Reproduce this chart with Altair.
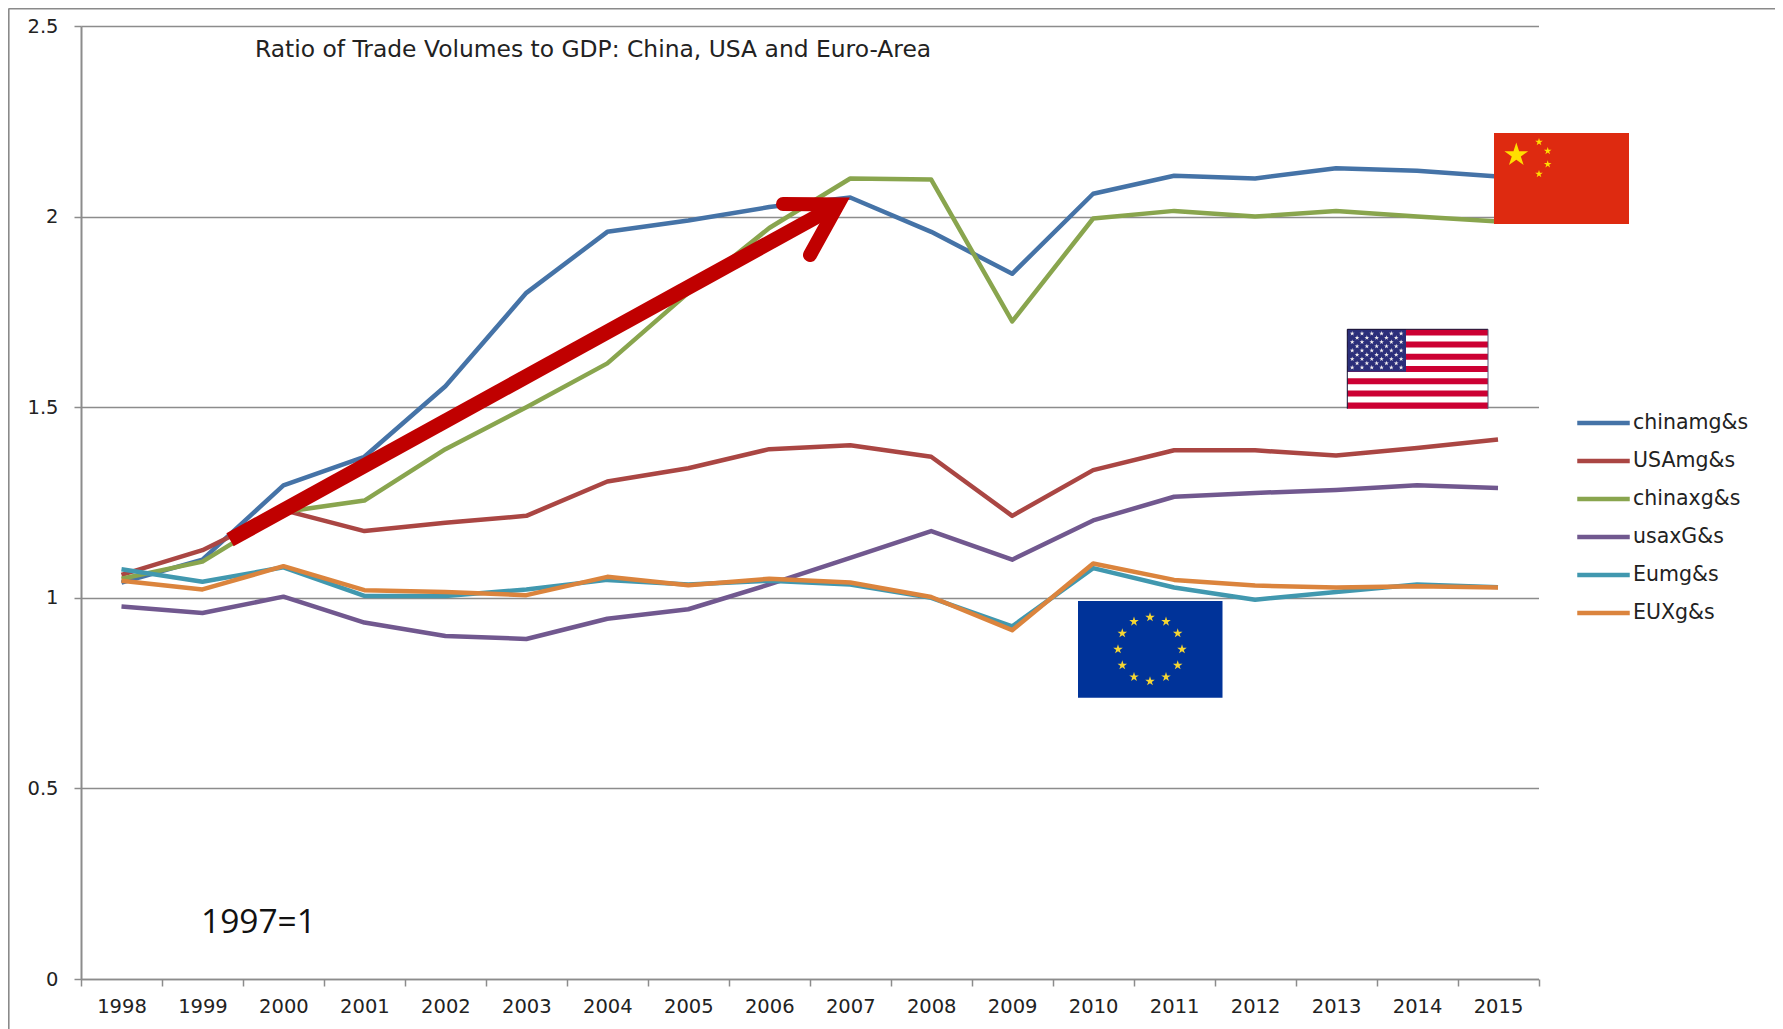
import math
import altair as alt
import pandas as pd

years = list(range(1998, 2016))
series_names = ["chinamg&s", "USAmg&s", "chinaxg&s", "usaxG&s", "Eumg&s", "EUXg&s"]
series_colors = ["#4573A7", "#AA4643", "#89A54E", "#71588F", "#4198AF", "#DB843D"]

chinamg = [1.04, 1.10, 1.295, 1.37, 1.555, 1.80, 1.96, 1.99, 2.025, 2.05, 1.96, 1.85, 2.06, 2.107, 2.10, 2.127, 2.12, 2.105]
usamg = [1.06, 1.125, 1.23, 1.175, 1.197, 1.215, 1.305, 1.34, 1.39, 1.40, 1.37, 1.215, 1.335, 1.387, 1.387, 1.373, 1.393, 1.415]
chinax = [1.05, 1.095, 1.225, 1.255, 1.39, 1.50, 1.615, 1.80, 1.97, 2.10, 2.097, 1.725, 1.995, 2.015, 2.0, 2.015, 2.0, 1.987]
usax = [0.977, 0.96, 1.003, 0.935, 0.90, 0.892, 0.945, 0.97, 1.035, 1.105, 1.175, 1.10, 1.203, 1.265, 1.275, 1.283, 1.295, 1.288]
eum = [1.075, 1.042, 1.08, 1.005, 1.005, 1.022, 1.047, 1.035, 1.045, 1.035, 1.0, 0.925, 1.078, 1.027, 0.995, 1.015, 1.035, 1.028]
eux = [1.045, 1.022, 1.083, 1.02, 1.015, 1.007, 1.055, 1.033, 1.05, 1.04, 1.002, 0.915, 1.09, 1.047, 1.032, 1.027, 1.03, 1.027]
all_series = [chinamg, usamg, chinax, usax, eum, eux]

title_text = "Ratio of Trade Volumes to GDP: China, USA and Euro-Area"
base_text = "1997=1"

FONT = "DejaVu Sans"
TXT = "#222222"
GRID = "#8c8c8c"

# page origin of the plot area
OX, OY = 81, 26
W, H = 1457.5, 953

rows = []
for name, vals in zip(series_names, all_series):
    for y, v in zip(years, vals):
        rows.append({"year": y, "series": name, "value": v})
df = pd.DataFrame(rows)
one = pd.DataFrame({"a": [0]})

lines = alt.Chart(df).mark_line(strokeWidth=4.5, strokeJoin="round").encode(
    x=alt.X("year:O", bandPosition=0.5,
            scale=alt.Scale(type="band", paddingInner=0, paddingOuter=0),
            axis=alt.Axis(title=None, labelAngle=0, tickBand="extent", grid=False,
                          labelFont=FONT, labelFontSize=19.5, labelColor=TXT,
                          labelPadding=11, tickSize=7, tickColor=GRID, tickWidth=1.5,
                          domainColor=GRID, domainWidth=1.5, labelOverlap=False)),
    y=alt.Y("value:Q", scale=alt.Scale(domain=[0, 2.5], nice=False),
            axis=alt.Axis(title=None, values=[0, 0.5, 1, 1.5, 2, 2.5], labelExpr="datum.value",
                          grid=True, gridColor=GRID, gridWidth=1.5,
                          labelFont=FONT, labelFontSize=19.5, labelColor=TXT,
                          labelPadding=16, tickSize=7, tickColor=GRID, tickWidth=1.5,
                          domainColor=GRID, domainWidth=2)),
    color=alt.Color("series:N", sort=series_names,
                    scale=alt.Scale(domain=series_names, range=series_colors),
                    legend=alt.Legend(title=None, orient="none", legendX=1494, legendY=378.5,
                                      padding=0, symbolType="stroke", symbolSize=2756,
                                      symbolStrokeWidth=4.5, labelFont=FONT, labelFontSize=20.5,
                                      labelColor=TXT, labelOffset=1, rowPadding=0,
                                      clipHeight=37.2, labelLimit=200)),
    detail="series:N",
)


def px(x):
    return alt.value(x - OX)


def py(y):
    return alt.value(y - OY)


def rect(x0, y0, x1, y1, color):
    return alt.Chart(one).mark_rect(color=color).encode(
        x=px(x0), x2=px(x1), y=py(y0), y2=py(y1))


def seg(x0, y0, x1, y1, color, width, cap="butt"):
    return alt.Chart(one).mark_rule(color=color, strokeWidth=width, strokeCap=cap).encode(
        x=px(x0), x2=px(x1), y=py(y0), y2=py(y1))


# five-pointed star as a custom symbol
pts = []
for i in range(10):
    r = 1 if i % 2 == 0 else 0.382
    a = -math.pi / 2 + i * math.pi / 5
    pts.append(f"{r * math.cos(a):.4f},{r * math.sin(a):.4f}")
STAR = "M" + " L".join(pts) + " Z"


def stars(coords, diameter, color):
    d = pd.DataFrame(coords, columns=["sx", "sy"])
    d["sx"] -= OX
    d["sy"] -= OY
    return alt.Chart(d).mark_point(shape=STAR, filled=True, opacity=1, color=color,
                                   size=diameter * diameter, strokeWidth=0).encode(
        x=alt.X("sx:Q", scale=None, axis=None),
        y=alt.Y("sy:Q", scale=None, axis=None))


layers = [lines]

# slide frame
layers += [
    seg(8.6, 8.5, 8.6, 1040, "#8a8a8a", 2),
    seg(8.6, 8.5, 1777, 8.5, "#8a8a8a", 2),
    seg(1777, 8.5, 1777, 1040, "#9a9a9a", 2),
]

# China flag
layers += [
    rect(1494, 133, 1629, 224, "#DE2A10"),
    stars([(1516.3, 155)], 25, "#FFDE00"),
    stars([(1539, 142), (1547.7, 151), (1547.7, 164.3), (1539, 174)], 8, "#FFDE00"),
]

# USA flag
US_X0, US_X1, US_Y0, US_Y1 = 1347.3, 1488, 329.3, 408.7
stripe = (US_Y1 - US_Y0) / 13
layers.append(rect(US_X0, US_Y0, US_X1, US_Y1, "#FFFFFF"))
for i in range(0, 13, 2):
    layers.append(rect(US_X0, US_Y0 + i * stripe, US_X1, US_Y0 + (i + 1) * stripe, "#CC0033"))
CX1, CY1 = 1406, 371.7
layers.append(rect(US_X0, US_Y0, CX1, CY1, "#2B2E7A"))
us_stars = []
for row in range(9):
    n = 6 if row % 2 == 0 else 5
    for c in range(n):
        offset = 0.5 if row % 2 == 0 else 1.0
        us_stars.append((US_X0 + (c + offset) * (CX1 - US_X0) / 6,
                         US_Y0 + (row + 1) * (CY1 - US_Y0) / 10))
layers.append(stars(us_stars, 5, "#F5F0F0"))
layers += [
    seg(US_X0, US_Y0, US_X1, US_Y0, "#111133", 1),
    seg(US_X0, US_Y0, US_X0, US_Y1, "#111133", 1),
    seg(US_X1, US_Y0, US_X1, US_Y1, "#555577", 1),
]

# EU flag
layers.append(rect(1078, 601, 1222.5, 697.7, "#003399"))
layers.append(stars([(1150 + 32 * math.sin(i * math.pi / 6),
                      649.3 - 32 * math.cos(i * math.pi / 6)) for i in range(12)], 10, "#F5D633"))

# red arrow
RED = "#C00000"
layers.append(seg(230, 539.7, 836, 206, RED, 15))
head = pd.DataFrame({"hx": [783 - OX, 838 - OX, 810 - OX],
                     "hy": [204 - OY, 204.5 - OY, 255 - OY],
                     "o": [0, 1, 2]})
layers.append(alt.Chart(head).mark_line(color=RED, strokeWidth=14, strokeCap="round",
                                        strokeJoin="miter", strokeMiterLimit=10).encode(
    x=alt.X("hx:Q", scale=None, axis=None),
    y=alt.Y("hy:Q", scale=None, axis=None),
    order="o:Q"))

# texts
layers.append(alt.Chart(one).mark_text(text=title_text, font=FONT, fontSize=23.4, color=TXT,
                                       align="left", baseline="middle").encode(
    x=px(255), y=py(50)))
layers.append(alt.Chart(one).mark_text(text=base_text, font="Open Sans", fontSize=33.5, color="#111111",
                                       align="left", baseline="middle").encode(
    x=px(201), y=py(923)))

chart = alt.layer(*layers).properties(
    width=W, height=H,
    background="white",
    autosize=alt.AutoSizeParams(type="none"),
    padding={"left": OX - 8, "top": OY - 8, "right": 1783 - 8 - OX - W, "bottom": 50},
).configure_view(stroke=None)

chart.save("out.html", embed_options={"renderer": "svg", "actions": False})
